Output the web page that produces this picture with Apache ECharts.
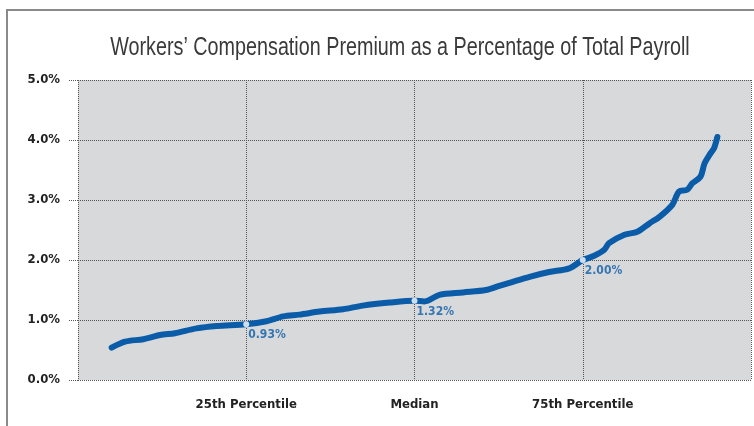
<!DOCTYPE html>
<html>
<head>
<meta charset="utf-8">
<script src="https://cdn.jsdelivr.net/npm/echarts@6/dist/echarts.min.js"></script>
<style>
  html, body { margin: 0; padding: 0; background: #fff; }
  #chart { width: 754px; height: 426px; }
</style>
</head>
<body>
<div id="chart"></div>
<script>
// percentile position (x) and premium as % of payroll (y)
const percentiles = [5, 7, 9.7, 12.2, 14.4, 17.6, 20.6, 25, 28, 30.5, 32.9, 35.9, 39.4, 42.3, 46.3, 50, 51.5, 53.7, 57.2, 60.6, 62.6, 64.1, 67.1, 70, 73, 75, 76.7, 78.2, 78.9, 81.2, 83.1, 84.9, 86.4, 88.3, 89.3, 90.5, 91.3, 92.5, 93.1, 94, 94.5, 95];
const premiumPct = [0.54, 0.64, 0.68, 0.75, 0.78, 0.86, 0.90, 0.93, 0.98, 1.06, 1.09, 1.14, 1.18, 1.24, 1.29, 1.32, 1.31, 1.42, 1.46, 1.50, 1.57, 1.62, 1.72, 1.80, 1.86, 2.00, 2.07, 2.17, 2.28, 2.42, 2.47, 2.61, 2.72, 2.92, 3.14, 3.17, 3.28, 3.39, 3.61, 3.78, 3.86, 4.05];

// highlighted points
const markPct = [25, 50, 75];
const markVal = [0.93, 1.32, 2.00];
const markText = ['0.93%', '1.32%', '2.00%'];

const xTickLabels = { 25: '25th Percentile', 50: 'Median', 75: '75th Percentile' };

const blue = '#0b5ca8';
const titleFont = '"Liberation Sans", sans-serif';
const labelFont = '"DejaVu Sans Condensed", "DejaVu Sans", sans-serif';

const chart = echarts.init(document.getElementById('chart'));
chart.setOption({
  animation: false,
  graphic: [{
    type: 'polyline',
    shape: { points: [[7, 426], [7, 10], [754, 10]] },
    style: { stroke: '#8a8a8a', lineWidth: 2, fill: null },
    silent: true
  }, {
    // title drawn as text so it can be squeezed like the condensed original
    type: 'text',
    x: 400, y: 48, scaleX: 0.76,
    style: {
      text: 'Workers\u2019 Compensation Premium as a Percentage of Total Payroll',
      align: 'center', verticalAlign: 'middle',
      font: 'normal 26px ' + titleFont, fill: '#3a3a3a'
    },
    silent: true
  }],
  grid: { left: 78, right: 2, top: 80, bottom: 46, show: true, backgroundColor: '#d7d9db', borderWidth: 0 },
  xAxis: {
    type: 'value', min: 0, max: 100, interval: 25,
    axisLine: { show: false },
    axisTick: { show: false },
    splitLine: { show: true, lineStyle: { type: 'dotted', color: '#555', width: 1 } },
    axisLabel: {
      margin: 18,
      fontFamily: labelFont, fontWeight: 'bold', fontSize: 13, color: '#222',
      formatter: v => xTickLabels[v] || ''
    }
  },
  yAxis: {
    type: 'value', min: 0, max: 5, interval: 1,
    axisLine: { show: false },
    axisTick: { show: true, length: 10, lineStyle: { type: 'dotted', color: '#555' } },
    splitLine: { show: true, lineStyle: { type: 'dotted', color: '#555', width: 1 } },
    axisLabel: {
      margin: 18,
      fontFamily: labelFont, fontWeight: 'bold', fontSize: 13, color: '#222',
      formatter: v => v.toFixed(1) + '%'
    }
  },
  series: [{
    type: 'line',
    data: percentiles.map((p, i) => [p, premiumPct[i]]),
    showSymbol: false,
    smooth: 0.3,
    lineStyle: { color: blue, width: 6, cap: 'round', join: 'round' },
    z: 2
  }, {
    type: 'scatter',
    data: markPct.map((p, i) => [p, markVal[i]]),
    symbolSize: 6,
    itemStyle: { color: '#fff' },
    label: {
      show: true,
      position: [5, 8],
      formatter: p => markText[p.dataIndex],
      fontFamily: labelFont, fontWeight: 'bold', fontSize: 12, color: blue
    },
    z: 3
  }]
});
</script>
</body>
</html>
